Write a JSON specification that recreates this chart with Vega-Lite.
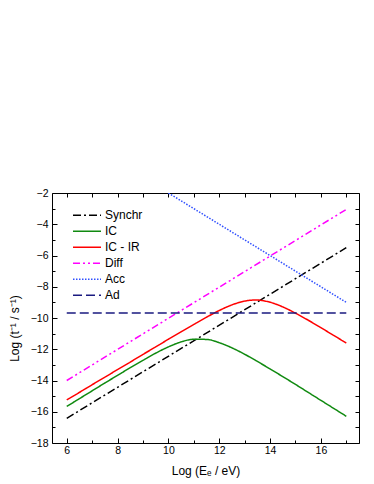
{
  "$schema": "https://vega.github.io/schema/vega-lite/v6.json",
  "width": 307,
  "height": 250,
  "autosize": "none",
  "padding": {"left": 52, "top": 193, "right": 15, "bottom": 41},
  "background": "white",
  "config": {
    "font": "Liberation Sans",
    "view": {"stroke": "black", "strokeWidth": 1}
  },
  "data": {
    "values": [
      {"series": "Synchr", "x": 6, "y": -16.42},
      {"series": "Synchr", "x": 17, "y": -5.5},
      {"series": "IC", "x": 6, "y": -15.66},
      {"series": "IC", "x": 6.5, "y": -15.16},
      {"series": "IC", "x": 7, "y": -14.66},
      {"series": "IC", "x": 7.5, "y": -14.16},
      {"series": "IC", "x": 8, "y": -13.67},
      {"series": "IC", "x": 8.5, "y": -13.18},
      {"series": "IC", "x": 9, "y": -12.71},
      {"series": "IC", "x": 9.5, "y": -12.25},
      {"series": "IC", "x": 10, "y": -11.85},
      {"series": "IC", "x": 10.5, "y": -11.53},
      {"series": "IC", "x": 11, "y": -11.36},
      {"series": "IC", "x": 11.5, "y": -11.37},
      {"series": "IC", "x": 12, "y": -11.58},
      {"series": "IC", "x": 12.5, "y": -11.91},
      {"series": "IC", "x": 13, "y": -12.32},
      {"series": "IC", "x": 13.5, "y": -12.78},
      {"series": "IC", "x": 14, "y": -13.26},
      {"series": "IC", "x": 14.5, "y": -13.75},
      {"series": "IC", "x": 15, "y": -14.25},
      {"series": "IC", "x": 15.5, "y": -14.76},
      {"series": "IC", "x": 16, "y": -15.27},
      {"series": "IC", "x": 16.5, "y": -15.78},
      {"series": "IC", "x": 17, "y": -16.29},
      {"series": "IC - IR", "x": 6, "y": -15.24},
      {"series": "IC - IR", "x": 6.5, "y": -14.76},
      {"series": "IC - IR", "x": 7, "y": -14.27},
      {"series": "IC - IR", "x": 7.5, "y": -13.79},
      {"series": "IC - IR", "x": 8, "y": -13.3},
      {"series": "IC - IR", "x": 8.5, "y": -12.82},
      {"series": "IC - IR", "x": 9, "y": -12.33},
      {"series": "IC - IR", "x": 9.5, "y": -11.85},
      {"series": "IC - IR", "x": 10, "y": -11.36},
      {"series": "IC - IR", "x": 10.5, "y": -10.88},
      {"series": "IC - IR", "x": 11, "y": -10.41},
      {"series": "IC - IR", "x": 11.5, "y": -9.95},
      {"series": "IC - IR", "x": 12, "y": -9.52},
      {"series": "IC - IR", "x": 12.5, "y": -9.16},
      {"series": "IC - IR", "x": 13, "y": -8.92},
      {"series": "IC - IR", "x": 13.25, "y": -8.86},
      {"series": "IC - IR", "x": 13.5, "y": -8.85},
      {"series": "IC - IR", "x": 13.75, "y": -8.9},
      {"series": "IC - IR", "x": 14, "y": -8.99},
      {"series": "IC - IR", "x": 14.5, "y": -9.29},
      {"series": "IC - IR", "x": 15, "y": -9.69},
      {"series": "IC - IR", "x": 15.5, "y": -10.14},
      {"series": "IC - IR", "x": 16, "y": -10.62},
      {"series": "IC - IR", "x": 16.5, "y": -11.11},
      {"series": "IC - IR", "x": 17, "y": -11.6},
      {"series": "Diff", "x": 6, "y": -14.0},
      {"series": "Diff", "x": 17, "y": -3.05},
      {"series": "Acc", "x": 10, "y": -2.0},
      {"series": "Acc", "x": 17, "y": -9.0},
      {"series": "Ad", "x": 6, "y": -9.68},
      {"series": "Ad", "x": 17, "y": -9.68}
    ]
  },
  "layer": [
    {
      "mark": {"type": "line", "interpolate": "monotone", "strokeWidth": 1.5, "clip": true},
      "encoding": {
        "x": {
          "field": "x", "type": "quantitative",
          "scale": {"domain": [5.42, 17.5], "nice": false, "zero": false},
          "axis": {
            "orient": "bottom",
            "values": [6, 7, 8, 9, 10, 11, 12, 13, 14, 15, 16, 17],
            "tickSize": {"condition": {"test": "datum.value % 2 === 0", "value": -5}, "value": -3},
            "tickColor": "black",
            "tickWidth": 1,
            "labelExpr": "datum.value % 2 === 0 ? datum.label : ''",
            "labelFontSize": 10.5,
            "labelColor": "black",
            "labelPadding": 7,
            "labelFlush": false,
            "labelOverlap": false,
            "domain": false,
            "grid": false,
            "title": "Log (Eₑ / eV)",
            "titleFontSize": 12,
            "titleFontWeight": "normal",
            "titleColor": "black",
            "titleBaseline": "alphabetic",
            "titleY": 31.5
          }
        },
        "y": {
          "field": "y", "type": "quantitative",
          "scale": {"domain": [-18, -2], "nice": false, "zero": false},
          "axis": {
            "orient": "left",
            "values": [-18, -17, -16, -15, -14, -13, -12, -11, -10, -9, -8, -7, -6, -5, -4, -3, -2],
            "tickSize": {"condition": {"test": "datum.value % 2 === 0", "value": -5}, "value": -3},
            "tickColor": "black",
            "tickWidth": 1,
            "labelExpr": "datum.value % 2 === 0 ? datum.label : ''",
            "labelFontSize": 10.5,
            "labelColor": "black",
            "labelPadding": 9,
            "labelFlush": false,
            "labelOverlap": false,
            "domain": false,
            "grid": false,
            "title": "Log (t⁻¹ / s⁻¹)",
            "titleFontSize": 12,
            "titleFontWeight": "normal",
            "titleColor": "black",
            "titleAngle": -90,
            "titleBaseline": "alphabetic",
            "titleAlign": "center",
            "titleX": -33.5,
            "titleY": 135
          }
        },
        "color": {
          "field": "series", "type": "nominal",
          "scale": {
            "domain": ["Synchr", "IC", "IC - IR", "Diff", "Acc", "Ad"],
            "range": ["#000000", "#108a10", "#ff0000", "#ff00ff", "#3050ff", "#1a1a80"]
          },
          "legend": {
            "orient": "none", "legendX": 20, "legendY": 14.5, "title": null,
            "symbolType": "stroke", "symbolSize": 784, "symbolStrokeWidth": 1.5,
            "labelFontSize": 12, "labelColor": "black", "labelOffset": 3,
            "clipHeight": 15.3, "rowPadding": 0, "padding": 0
          }
        },
        "strokeDash": {
          "field": "series", "type": "nominal",
          "scale": {
            "domain": ["Synchr", "IC", "IC - IR", "Diff", "Acc", "Ad"],
            "range": [[8, 3, 2, 3], [1, 0], [1, 0], [7, 3, 2, 3, 2, 3], [1.5, 1.5], [9, 4]]
          },
          "legend": {
            "orient": "none", "legendX": 20, "legendY": 14.5, "title": null,
            "symbolType": "stroke", "symbolSize": 784, "symbolStrokeWidth": 1.5,
            "labelFontSize": 12, "labelColor": "black", "labelOffset": 3,
            "clipHeight": 15.3, "rowPadding": 0, "padding": 0
          }
        }
      }
    },
    {
      "mark": {"type": "line", "opacity": 0},
      "encoding": {
        "x": {
          "field": "x", "type": "quantitative",
          "axis": {
            "orient": "top",
            "values": [6, 7, 8, 9, 10, 11, 12, 13, 14, 15, 16, 17],
            "tickSize": -4, "tickColor": "black", "labels": false,
            "domain": false, "grid": false, "title": null
          }
        },
        "y": {
          "field": "y", "type": "quantitative",
          "axis": {
            "orient": "right",
            "values": [-18, -17, -16, -15, -14, -13, -12, -11, -10, -9, -8, -7, -6, -5, -4, -3, -2],
            "tickSize": -4, "tickColor": "black", "labels": false,
            "domain": false, "grid": false, "title": null
          }
        },
        "detail": {"field": "series", "type": "nominal"}
      }
    }
  ],
  "resolve": {"axis": {"x": "independent", "y": "independent"}}
}
